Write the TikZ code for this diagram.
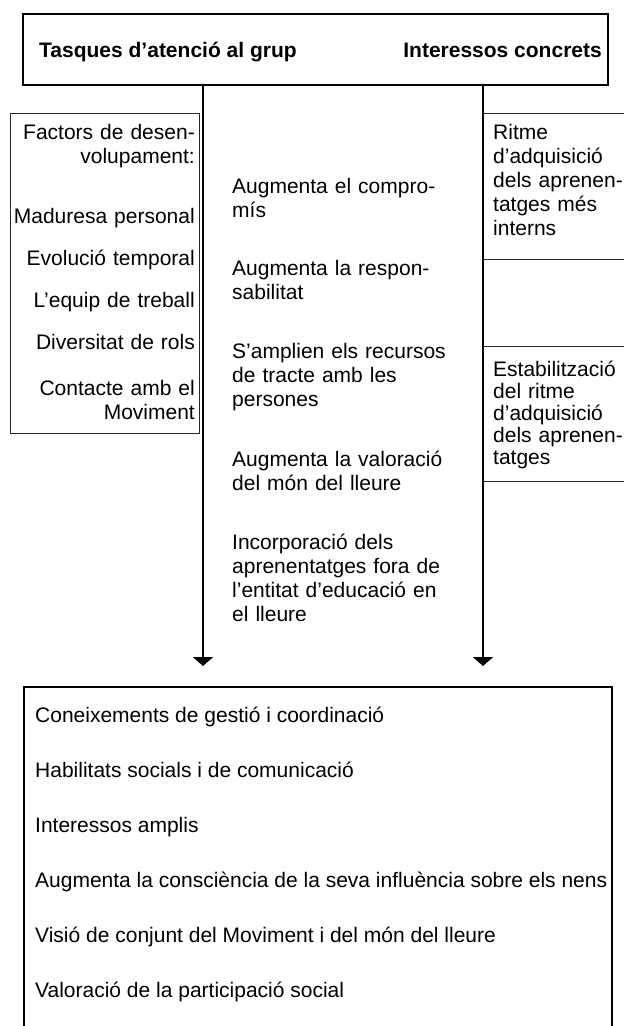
\documentclass[tikz,border=0pt]{standalone}
\usepackage{fontspec}
\setmainfont{Liberation Sans}
\usetikzlibrary{arrows.meta}
\tikzset{>={Triangle[width=20pt,length=9pt]}}
\tikzset{
  txt/.style={inner sep=0pt, font=\fontsize{21}{24}\selectfont},
  lefttxt/.style={txt, anchor=base east, align=right, text width=186pt},
  midtxt/.style={txt, anchor=base west, align=left, text width=240pt},
  righttxt/.style={txt, anchor=base west, align=left, text width=136pt},
  lowtxt/.style={txt, anchor=base west},
  heading/.style={inner sep=0pt, font=\fontsize{21}{24}\selectfont\bfseries},
  thickbox/.style={draw, line width=2.5pt, inner sep=0pt},
  thinbox/.style={draw, line width=1pt, black!85, inner sep=0pt},
  thinline/.style={line width=1pt, black!85},
  flow/.style={->, line width=2pt}
}

\begin{document}
\begin{tikzpicture}[x=1pt, y=-1pt]

    \useasboundingbox (0,0) rectangle (624,1026);
    \clip (0,0) rectangle (624,1026);

    % top box
    \node[thickbox, minimum width=585pt, minimum height=71pt] (head) at (315.5,49.5) {};
    \node[heading, anchor=base west] (tasques) at (39,57) {Tasques d’atenció al grup};
    \node[heading, anchor=base east] (interessos) at (602,57) {Interessos concrets};

    % bottom box, cut by the page edge
    \node[thickbox, line width=2pt, minimum width=588pt, minimum height=360pt] (result) at (318,867) {};

    \coordinate (lx) at (203,0);
    \coordinate (rx) at (483,0);

    \draw[flow] (head.south -| lx) -- ([yshift=20pt]result.north -| lx);
    \draw[flow] (head.south -| rx) -- ([yshift=20pt]result.north -| rx);

    % left column
    \node[thinbox, minimum width=189pt, minimum height=320pt] (factors) at (104.5,273) {};
    \node[lefttxt] (desenv) at (195,139) {Factors de desen-\\volupament:};
    \node[lefttxt] (madur) at (195,223) {Maduresa personal};
    \node[lefttxt] (evol) at (195,265) {Evolució temporal};
    \node[lefttxt] (equip) at (195,307) {L’equip de treball};
    \node[lefttxt] (rols) at (195,349) {Diversitat de rols};
    \node[lefttxt] (contacte) at (195,395) {Contacte amb el\\Moviment};

    % middle column
    \node[midtxt] (compromis) at (232,193) {Augmenta el compro-\\mís};
    \node[midtxt] (respons) at (232,275.5) {Augmenta la respon-\\sabilitat};
    \node[midtxt] (recursos) at (232,358) {S’amplien els recursos\\de tracte amb les\\persones};
    \node[midtxt] (valora) at (232,466.5) {Augmenta la valoració\\del món del lleure};
    \node[midtxt] (incorp) at (232,549) {Incorporació dels\\aprenentatges fora de\\l’entitat d’educació en\\el lleure};

    % right column
    \draw[thinline] (483,113) -- (624,113);
    \draw[thinline] (483,259) -- (624,259);
    \draw[thinline] (483,346) -- (624,346);
    \draw[thinline] (483,481) -- (624,481);
    \node[righttxt] (ritme) at (493,139) {Ritme\\d’adquisició\\dels aprenen-\\tatges més\\interns};
    \node[righttxt, font=\fontsize{21}{22}\selectfont] (estab) at (493,376) {Estabilització\\del ritme\\d’adquisició\\dels aprenen-\\tatges};

    % bottom list
    \node[lowtxt] (gestio) at (35,722) {Coneixements de gestió i coordinació};
    \node[lowtxt] (habil) at (35,777) {Habilitats socials i de comunicació};
    \node[lowtxt] (amplis) at (35,832) {Interessos amplis};
    \node[lowtxt] (conscien) at (35,887) {Augmenta la consciència de la seva influència sobre els nens};
    \node[lowtxt] (visio) at (35,942) {Visió de conjunt del Moviment i del món del lleure};
    \node[lowtxt] (particip) at (35,997) {Valoració de la participació social};

\end{tikzpicture}
\end{document}
